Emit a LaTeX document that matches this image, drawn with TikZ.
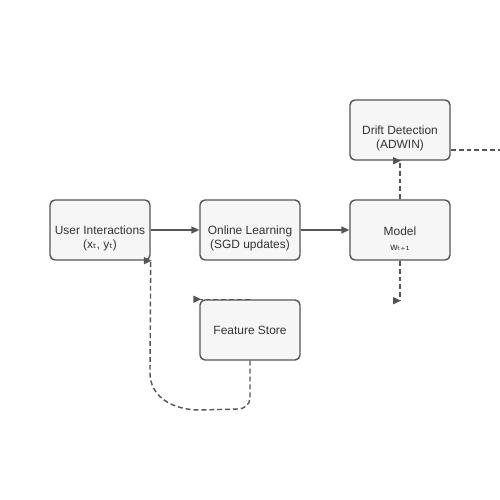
\documentclass[tikz,border=0pt]{standalone}
\usepackage{fontspec}
\setmainfont{Liberation Sans}
\newfontfamily\subfont{DejaVu Sans}
\usepackage{xcolor}
\definecolor{boxfill}{RGB}{246,246,246}
\definecolor{boxline}{RGB}{85,85,85}
\definecolor{boxtext}{RGB}{51,51,51}
\usepackage{tikz}
\usetikzlibrary{positioning}
\usetikzlibrary{arrows.meta}

\begin{document}
\begin{tikzpicture}[x=0.2mm,y=-0.2mm,
  box/.style={draw=boxline,fill=boxfill,line width=0.8pt,rounded corners=2.8pt,minimum width=20mm,minimum height=12mm,align=center,text=boxtext,font=\fontsize{6.8pt}{8.5pt}\selectfont,inner sep=0pt},
  flow/.style={draw=boxline,line width=0.8pt,-{Triangle[length=4.5pt,width=4pt]}},
  feedback/.style={flow,dash pattern=on 2.8pt off 1.7pt}]
\useasboundingbox (0,0) rectangle (500,500);
\node[box] (user) at (100,230) {\mbox{}\\[6pt]User Interactions\\(x{\subfont ₜ}, y{\subfont ₜ})};
\node[box] (learn) at (250,230) {\mbox{}\\[6pt]Online Learning\\(SGD updates)};
\node[box] (model) at (400,230) {\mbox{}\\[6pt]Model\\{\fontsize{5.7pt}{7pt}\selectfont w{\subfont ₜ₊₁}}};
\node[box] (drift) at (400,130) {\mbox{}\\[6pt]Drift Detection\\(ADWIN)};
\node[box] (store) at (250,330) {Feature Store};
\coordinate (out) at (500,150);
\draw[flow] (user) -- (learn);
\draw[flow] (learn) -- (model);
\draw[feedback] (model.north) -- (drift.south) -- ++(1,0);
\draw[feedback] (model.south) -- ++(0,40) -- ++(1,0);
\draw[feedback,-] (drift.east |- out) -- (out);
\draw[feedback] (store.north) -- (store.north west) -- ++(2,0);
\draw[feedback] (store.south) -- (250,398) to[out=-90,in=0] (238,409) -- (200,410)
  .. controls (170,410) and (150,395) .. (150,373) -- (user.south east) -- ++(1,0);
\end{tikzpicture}
\end{document}
